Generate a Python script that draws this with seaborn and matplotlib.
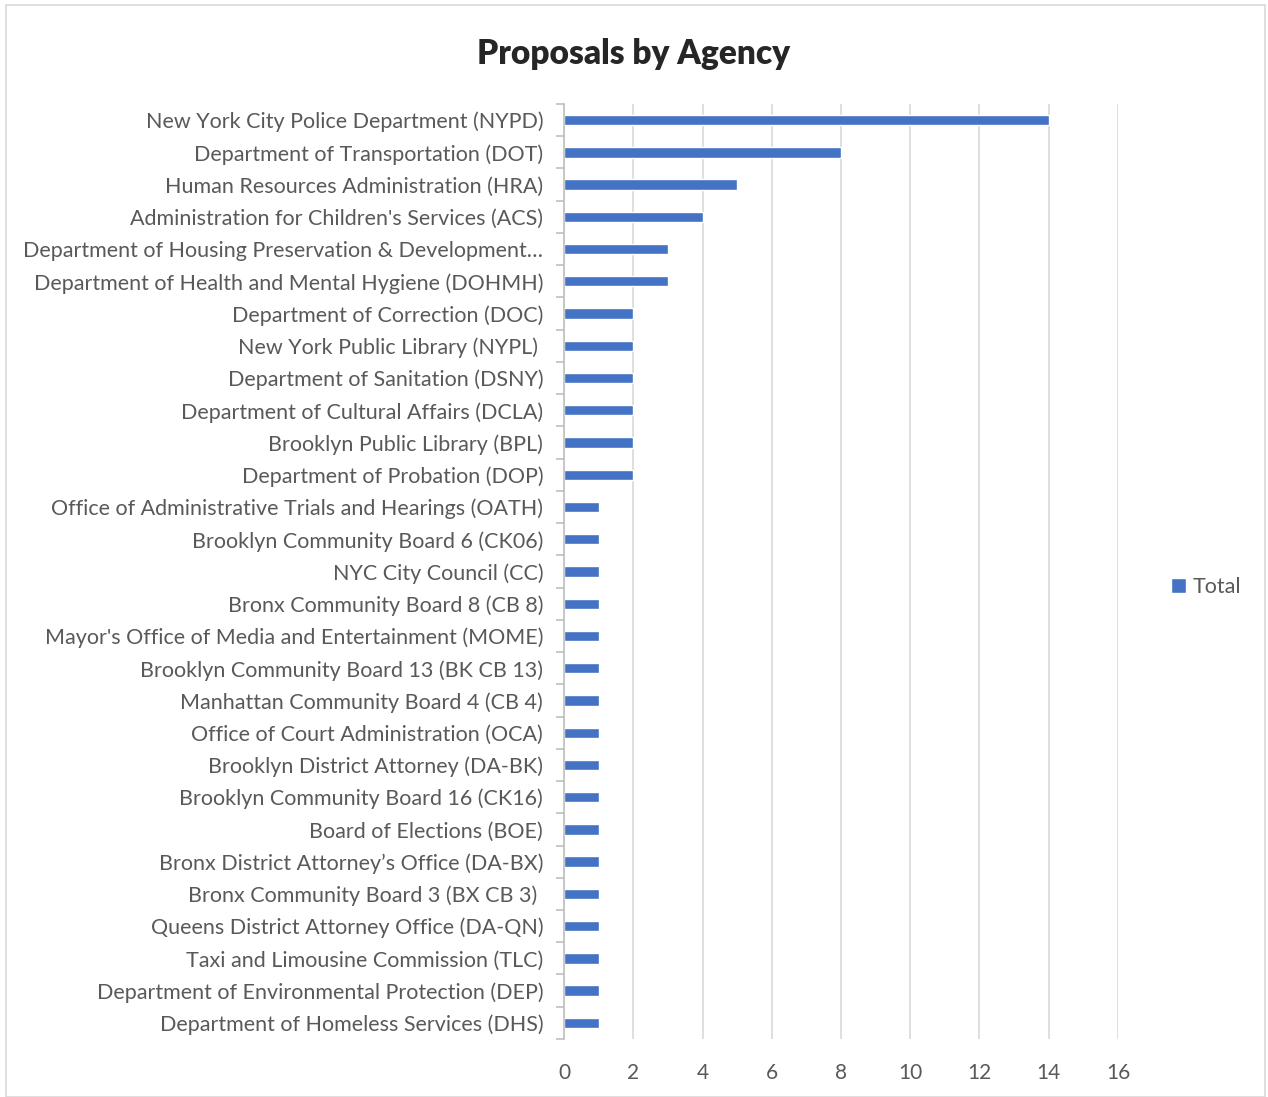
import matplotlib.pyplot as plt
import seaborn as sns
import pandas as pd
import numpy as np
from matplotlib.patches import Rectangle

agencies = [
    "New York City Police Department (NYPD)",
    "Department of Transportation (DOT)",
    "Human Resources Administration (HRA)",
    "Administration for Children's Services (ACS)",
    "Department of Housing Preservation & Development…",
    "Department of Health and Mental Hygiene (DOHMH)",
    "Department of Correction (DOC)",
    "New York Public Library (NYPL) ",
    "Department of Sanitation (DSNY)",
    "Department of Cultural Affairs (DCLA)",
    "Brooklyn Public Library (BPL)",
    "Department of Probation (DOP)",
    "Office of Administrative Trials and Hearings (OATH)",
    "Brooklyn Community Board 6 (CK06)",
    "NYC City Council (CC)",
    "Bronx Community Board 8 (CB 8)",
    "Mayor's Office of Media and Entertainment (MOME)",
    "Brooklyn Community Board 13 (BK CB 13)",
    "Manhattan Community Board 4 (CB 4)",
    "Office of Court Administration (OCA)",
    "Brooklyn District Attorney (DA-BK)",
    "Brooklyn Community Board 16 (CK16)",
    "Board of Elections (BOE)",
    "Bronx District Attorney\u2019s Office (DA-BX)",
    "Bronx Community Board 3 (BX CB 3) ",
    "Queens District Attorney Office (DA-QN)",
    "Taxi and Limousine Commission (TLC)",
    "Department of Environmental Protection (DEP)",
    "Department of Homeless Services (DHS)",
]
totals = [14, 8, 5, 4, 3, 3, 2, 2, 2, 2, 2, 2,
          1, 1, 1, 1, 1, 1, 1, 1, 1, 1, 1, 1, 1, 1, 1, 1, 1]
xticks = [0, 2, 4, 6, 8, 10, 12, 14, 16]

df = pd.DataFrame({"Agency": agencies, "Proposals": totals, "Series": "Total"})

sns.set_style("white")
plt.rcParams['font.family'] = ['Lato', 'DejaVu Sans']

fig = plt.figure(figsize=(12.68, 10.97), dpi=100)
ax = fig.add_axes([0.4448, 0.0529, 0.4369, 0.8523])

sns.barplot(data=df, y="Agency", x="Proposals", hue="Series",
            palette=["#4472C4"], orient="h", width=0.32, ax=ax,
            legend=True, saturation=1)

ax.set_xlim(0, 16)
ax.set_ylim(len(agencies) - 0.5, -0.5)
ax.set_xticks(xticks)
ax.set_xticklabels([str(t) for t in xticks])
ax.set_xlabel("")
ax.set_ylabel("")
ax.grid(axis="x", color="#D9D9D9", linewidth=1.2)
ax.set_axisbelow(True)
for s in ["top", "right", "bottom"]:
    ax.spines[s].set_visible(False)
ax.spines["left"].set_color("#BFBFBF")
ax.spines["left"].set_linewidth(1.2)

ax.tick_params(axis="x", length=0, pad=17, labelsize=15, labelcolor="#595959")
ax.tick_params(axis="y", which="major", length=0, pad=15, labelsize=15.5,
               labelcolor="#595959")
ax.set_yticks(np.arange(-0.5, len(agencies), 1), minor=True)
ax.tick_params(axis="y", which="minor", left=True, length=6,
               color="#BFBFBF", width=1.2)

handles, labels = ax.get_legend_handles_labels()
ax.get_legend().remove()
fig.legend(handles, labels, loc="center left", bbox_to_anchor=(0.908, 0.465),
           frameon=False, fontsize=15.5, handlelength=0.7, handleheight=0.7,
           handletextpad=0.3, labelcolor="#595959")

fig.suptitle("Proposals by Agency", x=0.5, y=0.965, fontsize=24,
             fontweight="heavy")

fig.patches.append(Rectangle((0.005, 0.0), 0.993, 0.995, transform=fig.transFigure,
                             fill=False, edgecolor="#D9D9D9", linewidth=1.2))

fig.savefig("out.png", dpi=100)
